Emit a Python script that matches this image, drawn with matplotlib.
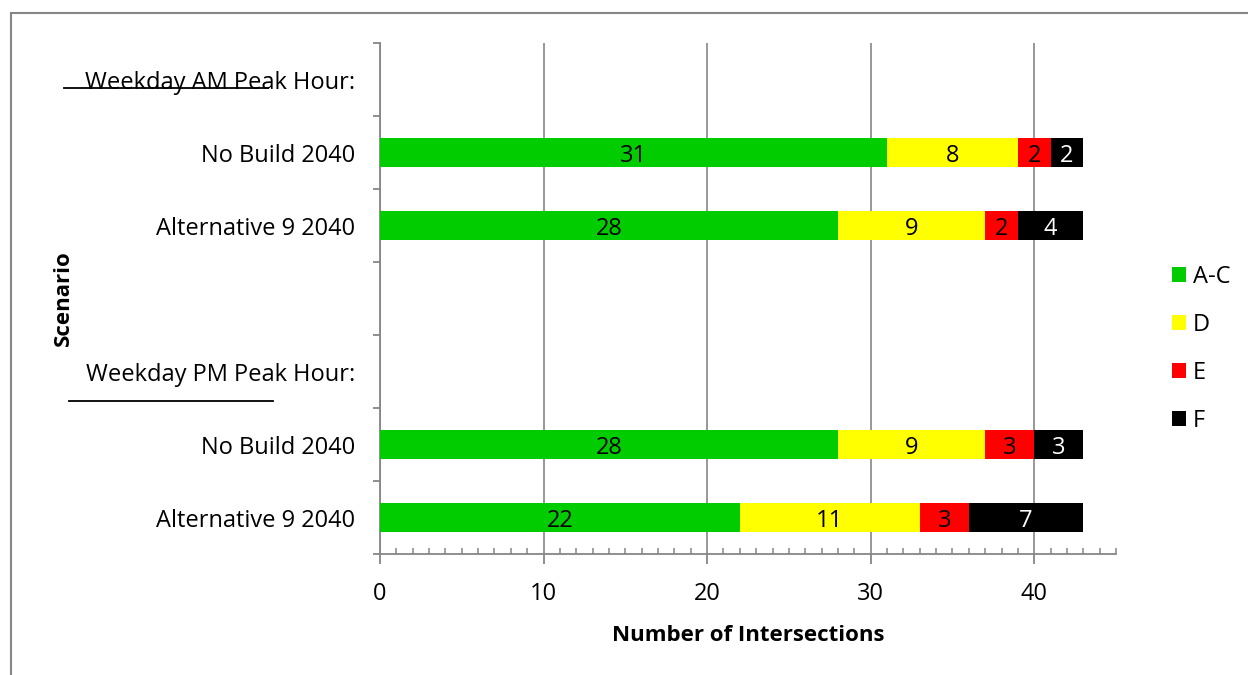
import numpy as np
import matplotlib
matplotlib.use("Agg")
import matplotlib.pyplot as plt
from matplotlib.patches import Patch
from matplotlib.lines import Line2D

plt.rcParams['font.family'] = ['Open Sans', 'DejaVu Sans']

# Level-of-service counts per scenario (blank rows are section headers / spacer)
scenarios = ["Weekday AM Peak Hour:", "No Build 2040", "Alternative 9 2040", "",
             "Weekday PM Peak Hour:", "No Build 2040", "Alternative 9 2040"]
los_levels = ["A-C", "D", "E", "F"]
count_ac = [np.nan, 31, 28, np.nan, np.nan, 28, 22]
count_d = [np.nan, 8, 9, np.nan, np.nan, 9, 11]
count_e = [np.nan, 2, 2, np.nan, np.nan, 3, 3]
count_f = [np.nan, 2, 4, np.nan, np.nan, 3, 7]

series = [count_ac, count_d, count_e, count_f]
colors = ["#00CC00", "#FFFF00", "#FF0000", "#000000"]
text_colors = ["black", "black", "black", "white"]

W, H = 1248, 675
fig = plt.figure(figsize=(W / 100, H / 100), dpi=100)
ax = fig.add_axes([380 / W, 1 - 554 / H, (1116 - 380) / W, (554 - 43) / H])

ypos = np.arange(len(scenarios))
left = np.zeros(len(scenarios))
fs = 17
for vals, col, tcol in zip(series, colors, text_colors):
    v = np.array(vals, dtype=float)
    ax.barh(ypos, np.nan_to_num(v), left=left, height=0.4, color=col,
            edgecolor='none', zorder=3)
    for y, l, w in zip(ypos, left, v):
        if not np.isnan(w) and w > 0:
            ax.text(l + w / 2, y, f"{int(w)}", ha='center', va='center_baseline',
                    color=tcol, fontsize=fs, zorder=4)
    left = left + np.nan_to_num(v)

ax.set_xlim(0, 45)
ax.set_ylim(len(scenarios) - 0.5, -0.5)

axis_gray = "#868686"
for side in ("top", "right"):
    ax.spines[side].set_visible(False)
for side in ("left", "bottom"):
    ax.spines[side].set_color(axis_gray)
    ax.spines[side].set_linewidth(1.3)

ax.set_xticks([0, 10, 20, 30, 40])
ax.set_xticks(np.arange(0, 46, 1), minor=True)
ax.tick_params(axis='x', which='major', direction='out', length=7, width=1.3,
               color=axis_gray, labelsize=fs, pad=13)
ax.tick_params(axis='x', which='minor', direction='in', length=4, width=1.1,
               color=axis_gray)
ax.xaxis.grid(True, which='major', color=axis_gray, linewidth=1.2, zorder=0)
ax.set_axisbelow(True)

# Category boundaries carry the tick marks; names sit between them
ax.set_yticks(np.arange(-0.5, len(scenarios), 1.0))
ax.set_yticklabels([])
ax.set_yticks(ypos, minor=True)
ax.set_yticklabels(scenarios, minor=True)
ax.tick_params(axis='y', which='major', direction='out', length=5, width=1.3,
               color=axis_gray)
ax.tick_params(axis='y', which='minor', length=0, labelsize=fs, pad=18)

ax.set_xlabel("Number of Intersections", fontsize=16, fontweight='bold', labelpad=14)
ax.set_ylabel("Scenario", fontsize=16, fontweight='bold')
ax.yaxis.set_label_coords(74 / W, 1 - 298 / H, transform=fig.transFigure)

# Underlines beneath the two section headers
fig.add_artist(Line2D([64 / W, 268 / W], [1 - 88 / H, 1 - 88 / H],
                      color='black', linewidth=1.3))
fig.add_artist(Line2D([69 / W, 273 / W], [1 - 401 / H, 1 - 401 / H],
                      color='black', linewidth=1.3))

# Outer frame (top and left edges)
fig.add_artist(Line2D([11 / W, 11 / W], [0, 1 - 13 / H], color=axis_gray, linewidth=1.5))
fig.add_artist(Line2D([11 / W, 1], [1 - 13 / H, 1 - 13 / H], color=axis_gray, linewidth=1.5))

handles = [Patch(facecolor=c, edgecolor='none') for c in colors]
fig.legend(handles, los_levels, loc='center left',
           bbox_to_anchor=(1153 / W, 1 - 349 / H), frameon=False,
           fontsize=fs, handlelength=0.6, handleheight=0.6,
           handletextpad=0.3, labelspacing=1.02, borderpad=0.3)

fig.savefig("out.png", dpi=100)
